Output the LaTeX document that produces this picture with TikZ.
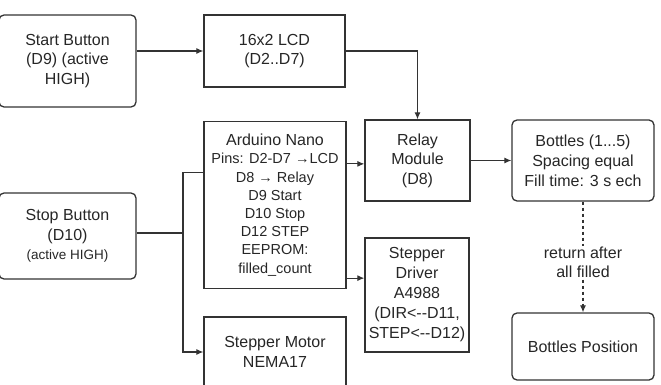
\documentclass[tikz,border=0pt]{standalone}
\usepackage{fontspec}
\setmainfont{Liberation Sans}
\usetikzlibrary{arrows.meta,positioning}

\begin{document}
\begin{tikzpicture}[
    x=1pt, y=-1pt,
    font=\fontsize{16}{19.5}\selectfont,
    box/.style={rectangle, draw=black!80, line width=1.3pt, align=center, inner sep=2pt, text=black!85},
    roundbox/.style={box, rounded corners=5pt},
    arrow/.style={-{Latex[length=7pt,width=6pt]}, line width=1.1pt, draw=black!80},
    wire/.style={line width=1.1pt, draw=black!80}
]
    \clip (0,0) rectangle (661,385);
    % inputs on the left
    \node[roundbox, minimum width=137pt, minimum height=92pt] (start) at (67.5,61) {Start Button\\(D9) (active\\HIGH)};
    \node[roundbox, minimum width=137pt, minimum height=86pt] (stop) at (67.5,236) {Stop Button\\(D10)\\{\fontsize{13.5}{17}\selectfont (active HIGH)}};
    % middle column
    \node[box, minimum width=141pt, minimum height=72pt] (lcd) at (274.5,51) {16x2 LCD\\(D2..D7)};
    \node[box, minimum width=142pt, minimum height=167pt, font=\fontsize{14.5}{18.2}\selectfont] (nano) at (275,205)
        {{\fontsize{16}{18.2}\selectfont Arduino Nano}\\Pins: D2-D7 →LCD\\D8 → Relay\\D9 Start\\D10 Stop\\D12 STEP\\EEPROM:\\filled\_count};
    \node[box, minimum width=142pt, minimum height=70pt] (motor) at (275,352) {Stepper Motor\\NEMA17};
    \node[box, minimum width=105pt, minimum height=81pt] (relay) at (417.5,160.5) {Relay\\Module\\(D8)};
    \node[box, minimum width=104pt, minimum height=114pt, font=\fontsize{16}{20}\selectfont] (driver) at (417,295) {Stepper\\Driver\\A4988\\(DIR<-{}-D11,\\STEP<-{}-D12)};
    % bottles on the right
    \node[roundbox, minimum width=142pt, minimum height=81pt, font=\fontsize{16}{20}\selectfont] (bottles) at (583,160.5) {Bottles (1...5)\\Spacing equal\\Fill time: 3 s ech};
    \node[roundbox, minimum width=142pt, minimum height=67pt] (bpos) at (583,346.5) {Bottles Position};
    \coordinate (fork) at (183,233);

    \draw[arrow] (start.east |- lcd) -- (lcd);
    \draw[arrow] (lcd) -| (relay);
    \draw[arrow] ([yshift=-43pt]nano.north east) -- ([yshift=-43pt]nano.north east -| relay.west);
    \draw[arrow] ([yshift=11pt]nano.south east) -- ([yshift=11pt]nano.south east -| driver.west);
    \draw[wire] (stop.east |- fork) -- (fork);
    \draw[wire] (fork) |- ([yshift=-52pt]nano.north west);
    \draw[arrow] (fork) |- (motor);
    \draw[arrow] (relay) -- (bottles);
    \draw[arrow, dash pattern=on 3pt off 3pt] (bottles) -- node[fill=white, align=center, pos=0.55, inner sep=1pt, text=black!85] {return after\\all filled} (bpos);
\end{tikzpicture}
\end{document}
